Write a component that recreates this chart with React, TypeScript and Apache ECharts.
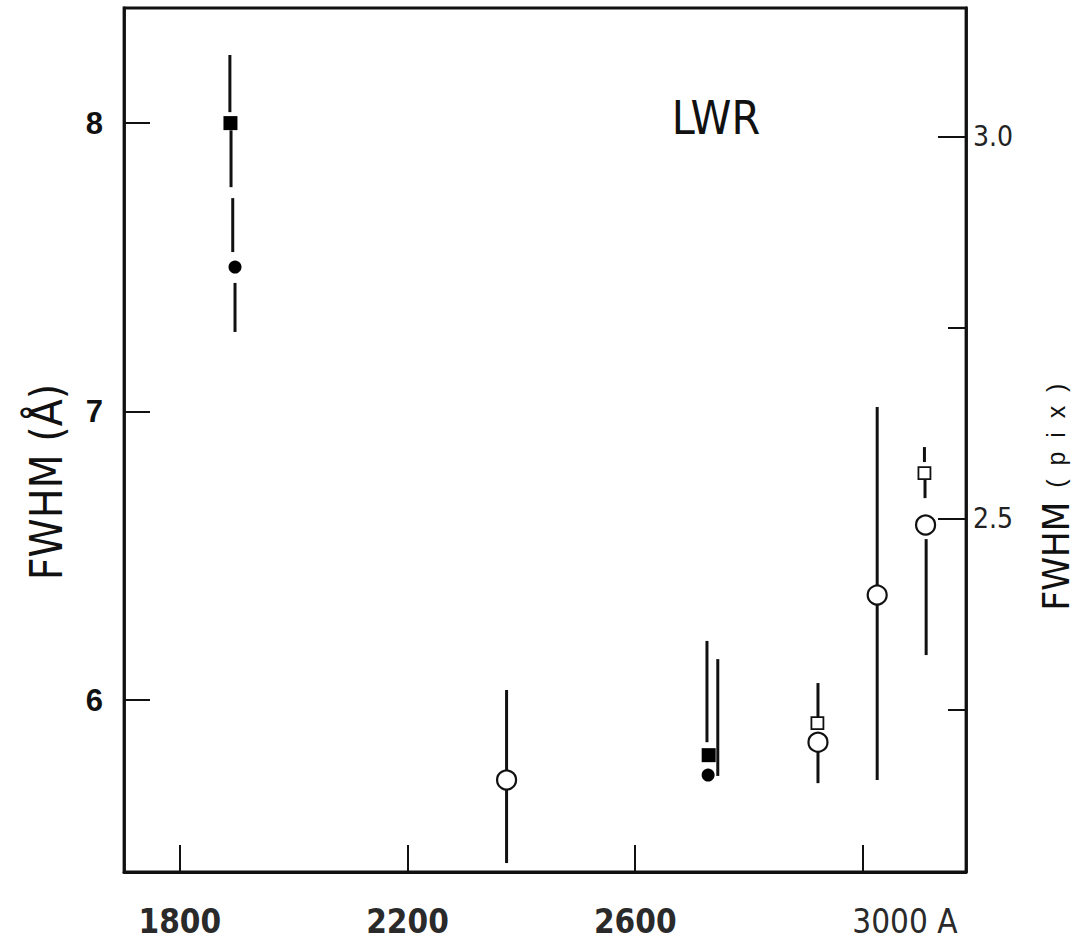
import React, { useEffect, useRef } from "react";
import * as echarts from "echarts";

// Axis ticks / labels
const xTicks = [1800, 2200, 2600, 3000];
const yLeftTicks = [6, 7, 8];
const yRightMajor = [2.5, 3.0];
const yRightMinor = [2.25, 2.75];

// Markers (wavelength, FWHM in Å)
const filledSquare = [
  [1889, 8.0],
  [2729, 5.809],
];
const filledCircle = [
  [1897, 7.501],
  [2728, 5.74],
];
const openCircle = [
  [2374, 5.723],
  [2921, 5.854],
  [3025, 6.364],
  [3110, 6.607],
];
const openSquare = [
  [2920, 5.92],
  [3108, 6.787],
];

// Error-bar segments: x, top, bottom
const errX = [1888, 1890, 1893, 1897, 2374, 2726, 2745, 2921, 2921, 3025, 3108, 3109, 3111];
const errTop = [8.236, 7.975, 7.74, 7.446, 6.035, 6.205, 6.142, 6.059, 5.82, 7.016, 6.877, 6.763, 6.558];
const errBottom = [8.038, 7.778, 7.553, 7.276, 5.435, 5.854, 5.737, 5.92, 5.712, 5.723, 6.825, 6.7, 6.156];

const X_MIN = 1702;
const X_MAX = 3181;
const YL_MIN = 5.404;
const YL_MAX = 8.399;
const YR_MIN = 2.037;
const YR_MAX = 3.168;

const INK = "#111111";
const NARROW = "'Liberation Sans Narrow', 'DejaVu Sans Condensed', sans-serif";
const SANS = "'Liberation Sans', Arial, sans-serif";

export default function App() {
  const ref = useRef<HTMLDivElement>(null);

  useEffect(() => {
    if (!ref.current) return;
    const chart = echarts.init(ref.current, null, { renderer: "svg" });

    const errData = errX.map((x, i) => [x, errTop[i], errBottom[i]]);

    const option: any = {
      animation: false,
      backgroundColor: "#ffffff",
      grid: {
        left: 124,
        right: 116,
        top: 8,
        bottom: 70,
        show: true,
        borderColor: INK,
        borderWidth: 2.8,
        backgroundColor: "transparent",
      },
      xAxis: {
        type: "value",
        min: X_MIN,
        max: X_MAX,
        axisLine: { show: true, lineStyle: { color: INK, width: 2.8 } },
        axisTick: {
          show: true,
          inside: true,
          length: 27,
          customValues: xTicks,
          lineStyle: { color: INK, width: 2 },
        },
        splitLine: { show: false },
        axisLabel: {
          customValues: xTicks,
          margin: 33,
          formatter: (v: number) => (v === 3000 ? "{w|3000 A}" : "{n|" + v + "}"),
          rich: {
            n: { fontFamily: NARROW, fontSize: 33, fontWeight: "bold", color: "#2a2a2a" },
            w: {
              fontFamily: NARROW,
              fontSize: 33,
              fontWeight: "normal",
              color: "#2a2a2a",
              padding: [0, 0, 0, 84],
            },
          },
        },
      },
      yAxis: [
        {
          type: "value",
          position: "left",
          min: YL_MIN,
          max: YL_MAX,
          axisLine: { show: true, lineStyle: { color: INK, width: 2.8 } },
          axisTick: {
            show: true,
            inside: true,
            length: 26,
            customValues: yLeftTicks,
            lineStyle: { color: INK, width: 2 },
          },
          splitLine: { show: false },
          axisLabel: {
            customValues: yLeftTicks,
            margin: 21,
            fontFamily: SANS,
            fontSize: 31,
            fontWeight: "bold",
            color: INK,
            formatter: (v: number) => String(Math.round(v)),
          },
        },
        {
          type: "value",
          position: "right",
          min: YR_MIN,
          max: YR_MAX,
          axisLine: { show: true, lineStyle: { color: INK, width: 2.8 } },
          axisTick: {
            show: true,
            inside: true,
            length: 28,
            customValues: yRightMajor,
            lineStyle: { color: INK, width: 2 },
          },
          splitLine: { show: false },
          axisLabel: {
            customValues: yRightMajor,
            margin: 7,
            fontFamily: NARROW,
            fontSize: 28,
            color: "#222",
            formatter: (v: number) => v.toFixed(1),
          },
        },
        {
          type: "value",
          position: "right",
          min: YR_MIN,
          max: YR_MAX,
          axisLine: { show: false },
          axisTick: {
            show: true,
            inside: true,
            length: 18,
            customValues: yRightMinor,
            lineStyle: { color: INK, width: 2 },
          },
          splitLine: { show: false },
          axisLabel: { show: false },
        },
      ],
      series: [
        {
          type: "custom",
          name: "errors",
          xAxisIndex: 0,
          yAxisIndex: 0,
          z: 1,
          data: errData,
          encode: { x: 0, y: [1, 2] },
          renderItem: (_params: any, api: any) => {
            const x = api.value(0);
            const p1 = api.coord([x, api.value(1)]);
            const p2 = api.coord([x, api.value(2)]);
            return {
              type: "line",
              shape: { x1: p1[0], y1: p1[1], x2: p2[0], y2: p2[1] },
              style: { stroke: INK, lineWidth: 3 },
            };
          },
        },
        {
          type: "scatter",
          name: "filled square",
          yAxisIndex: 0,
          z: 3,
          symbol: "rect",
          symbolSize: 14,
          itemStyle: { color: "#000", opacity: 1 },
          data: filledSquare,
        },
        {
          type: "scatter",
          name: "filled circle",
          yAxisIndex: 0,
          z: 3,
          symbol: "circle",
          symbolSize: 13,
          itemStyle: { color: "#000", opacity: 1 },
          data: filledCircle,
        },
        {
          type: "scatter",
          name: "open circle",
          yAxisIndex: 0,
          z: 3,
          symbol: "circle",
          symbolSize: 19,
          itemStyle: { color: "#ffffff", borderColor: INK, borderWidth: 2.2, opacity: 1 },
          data: openCircle,
        },
        {
          type: "scatter",
          name: "open square",
          yAxisIndex: 0,
          z: 3,
          symbol: "rect",
          symbolSize: 12,
          itemStyle: { color: "#ffffff", borderColor: INK, borderWidth: 1.8, opacity: 1 },
          data: openSquare,
        },
      ],
      graphic: [
        {
          type: "text",
          x: 716,
          y: 118,
          style: {
            text: "LWR",
            fontFamily: NARROW,
            fontSize: 46,
            fill: INK,
            align: "center",
            verticalAlign: "middle",
          },
        },
        {
          type: "text",
          x: 46,
          y: 482,
          rotation: Math.PI / 2,
          style: {
            text: "FWHM (Å)",
            fontFamily: NARROW,
            fontSize: 44,
            fill: INK,
            align: "center",
            verticalAlign: "middle",
          },
        },
        {
          type: "text",
          x: 1056,
          y: 497,
          rotation: Math.PI / 2,
          style: {
            text: "{a|FWHM}{b|  (  p  i  x  )}",
            align: "center",
            verticalAlign: "middle",
            rich: {
              a: { fontFamily: NARROW, fontSize: 38, fill: INK, verticalAlign: "middle" },
              b: { fontFamily: SANS, fontSize: 25, fill: INK, verticalAlign: "middle" },
            },
          },
        },
      ],
    };

    chart.setOption(option);
    return () => chart.dispose();
  }, []);

  return (
    <div
      ref={ref}
      style={{ position: "absolute", left: 0, top: 0, width: 1082, height: 942 }}
    />
  );
}
